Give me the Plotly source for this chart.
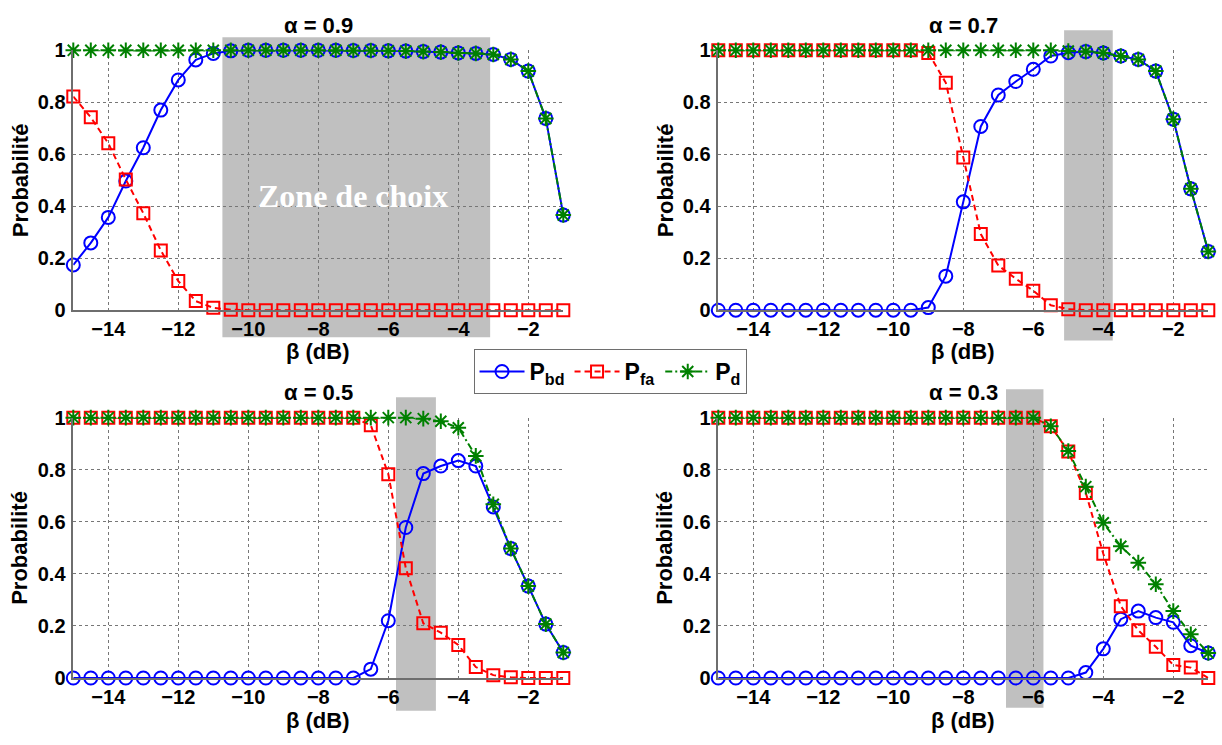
import numpy as np
import plotly.graph_objects as go

# ---------------- data ----------------
beta = [-15 + 0.5 * i for i in range(29)]  # -15 ... -1 dB

alphas = ["0.9", "0.7", "0.5", "0.3"]

pbd_09 = [0.174, 0.259, 0.357, 0.497, 0.625, 0.770, 0.886, 0.963, 0.988, 0.998,
          1.0, 1.0, 1.0, 1.0, 1.0, 1.0, 0.999, 0.999, 0.998, 0.997,
          0.995, 0.993, 0.990, 0.988, 0.984, 0.965, 0.920, 0.738, 0.366]
pfa_09 = [0.822, 0.742, 0.642, 0.503, 0.373, 0.230, 0.112, 0.035, 0.009, 0.002,
          0, 0, 0, 0, 0, 0, 0, 0, 0, 0,
          0, 0, 0, 0, 0, 0, 0, 0, 0]
pd_09 = [1.0, 1.0, 1.0, 1.0, 1.0, 1.0, 1.0, 1.0, 1.0, 1.0,
         1.0, 1.0, 1.0, 1.0, 1.0, 1.0, 0.999, 0.999, 0.998, 0.997,
         0.995, 0.993, 0.990, 0.988, 0.984, 0.965, 0.920, 0.738, 0.366]

pbd_07 = [0, 0, 0, 0, 0, 0, 0, 0, 0, 0,
          0, 0, 0.010, 0.131, 0.417, 0.707, 0.828, 0.880, 0.927, 0.978,
          0.991, 0.995, 0.990, 0.978, 0.965, 0.920, 0.735, 0.467, 0.226]
pfa_07 = [1, 1, 1, 1, 1, 1, 1, 1, 1, 1,
          1, 1, 0.990, 0.875, 0.588, 0.293, 0.172, 0.121, 0.075, 0.019,
          0.004, 0, 0, 0, 0, 0, 0, 0, 0]
pd_07 = [1, 1, 1, 1, 1, 1, 1, 1, 1, 1,
         1, 1, 1, 1, 1, 1, 1, 1, 1, 1,
         0.997, 0.995, 0.990, 0.978, 0.965, 0.920, 0.735, 0.467, 0.226]

pbd_05 = [0, 0, 0, 0, 0, 0, 0, 0, 0, 0,
          0, 0, 0, 0, 0, 0, 0, 0.034, 0.220, 0.578,
          0.785, 0.814, 0.835, 0.814, 0.657, 0.497, 0.353, 0.207, 0.098]
pfa_05 = [1, 1, 1, 1, 1, 1, 1, 1, 1, 1,
          1, 1, 1, 1, 1, 1, 1, 0.971, 0.783, 0.422,
          0.210, 0.174, 0.127, 0.042, 0.011, 0.003, 0, 0, 0]
pd_05 = [1, 1, 1, 1, 1, 1, 1, 1, 1, 1,
         1, 1, 1, 1, 1, 1, 1, 1, 1, 1,
         0.996, 0.986, 0.961, 0.853, 0.667, 0.497, 0.353, 0.207, 0.098]

pbd_03 = [0, 0, 0, 0, 0, 0, 0, 0, 0, 0,
          0, 0, 0, 0, 0, 0, 0, 0, 0, 0,
          0, 0.021, 0.112, 0.226, 0.257, 0.232, 0.214, 0.124, 0.096]
pfa_03 = [1, 1, 1, 1, 1, 1, 1, 1, 1, 1,
          1, 1, 1, 1, 1, 1, 1, 1, 1, 0.967,
          0.870, 0.711, 0.477, 0.276, 0.183, 0.120, 0.050, 0.040, 0.0]
pd_03 = [1, 1, 1, 1, 1, 1, 1, 1, 1, 1,
         1, 1, 1, 1, 1, 1, 1, 1, 1, 0.967,
         0.872, 0.735, 0.596, 0.506, 0.443, 0.360, 0.257, 0.168, 0.096]

# shaded "zone de choix" per panel: x range (dB), y extent (data units)
zone_x0 = [-10.74, -5.12, -5.78, -6.78]
zone_x1 = [-3.09, -3.73, -4.64, -5.71]
zone_y0 = [-0.104, -0.117, -0.126, -0.114]
zone_y1 = [1.05, 1.077, 1.078, 1.109]

x_ticks = [-14, -12, -10, -8, -6, -4, -2]
y_ticks = [0, 0.2, 0.4, 0.6, 0.8, 1]

series = [(pbd_09, pfa_09, pd_09), (pbd_07, pfa_07, pd_07),
          (pbd_05, pfa_05, pd_05), (pbd_03, pfa_03, pd_03)]

# ---------------- layout geometry ----------------
W, H = 1222, 745
x_doms = [(73.3 / W, 563.3 / W), (718.3 / W, 1208.3 / W)]
y_doms = [((H - 308.3) / H, (H - 40.5) / H), ((H - 687.3) / H, (H - 419.0) / H)]
panel_pos = [(0, 0), (1, 0), (0, 1), (1, 1)]  # (col, row)
title_y_px = [14.5, 393.5]
xlabel_y_px = [351, 731]

BLUE, RED, GREEN = "#0000FF", "#FF0000", "#008000"
FONT = "Liberation Sans"

fig = go.Figure()
shapes, annotations = [], []
layout_axes = {}

for i, (col, row) in enumerate(panel_pos):
    xd, yd = x_doms[col], y_doms[row]
    xa = "x" if i == 0 else f"x{i+1}"
    ya = "y" if i == 0 else f"y{i+1}"
    xkey = "xaxis" if i == 0 else f"xaxis{i+1}"
    ykey = "yaxis" if i == 0 else f"yaxis{i+1}"
    pbd, pfa, pd = series[i]
    show = i == 0
    fig.add_trace(go.Scatter(
        x=beta, y=pbd, xaxis=xa, yaxis=ya, mode="lines+markers", name="P<sub>bd</sub>",
        legendgroup="bd", showlegend=show, cliponaxis=False,
        line=dict(color=BLUE, width=2),
        marker=dict(symbol="circle-open", size=13, color=BLUE, line=dict(width=2, color=BLUE))))
    fig.add_trace(go.Scatter(
        x=beta, y=pfa, xaxis=xa, yaxis=ya, mode="lines+markers", name="P<sub>fa</sub>",
        legendgroup="fa", showlegend=show, cliponaxis=False,
        line=dict(color=RED, width=2, dash="6px,4px"),
        marker=dict(symbol="square-open", size=12, color=RED, line=dict(width=2, color=RED))))
    fig.add_trace(go.Scatter(
        x=beta, y=pd, xaxis=xa, yaxis=ya, mode="lines+markers", name="P<sub>d</sub>",
        legendgroup="d", showlegend=show, cliponaxis=False,
        line=dict(color=GREEN, width=2, dash="7px,3px,2px,3px"),
        marker=dict(symbol="asterisk-open", size=13, color=GREEN, line=dict(width=2, color=GREEN))))

    layout_axes[xkey] = dict(
        domain=list(xd), range=[-15, -1], anchor=ya, tickvals=x_ticks,
        showgrid=True, gridcolor="#777", griddash="dot", gridwidth=1,
        showline=True, linecolor="#6e6e6e", linewidth=1.5, zeroline=False,
        ticks="", ticklabelstandoff=0,
        tickfont=dict(family=FONT, size=20, color="black", weight="bold"))
    layout_axes[ykey] = dict(
        domain=list(yd), range=[0, 1], anchor=xa, tickvals=y_ticks,
        showgrid=True, gridcolor="#777", griddash="dot", gridwidth=1,
        showline=True, linecolor="#6e6e6e", linewidth=1.5, zeroline=False,
        ticks="", ticklabelstandoff=2,
        tickfont=dict(family=FONT, size=20, color="black", weight="bold"))

    # shaded zone
    def ypaper(v, yd=yd):
        return yd[0] + v * (yd[1] - yd[0])
    shapes.append(dict(type="rect", xref=xa, yref="paper",
                       x0=zone_x0[i], x1=zone_x1[i],
                       y0=ypaper(zone_y0[i]), y1=ypaper(zone_y1[i]),
                       fillcolor="#c0c0c0", line=dict(width=0), layer="below"))

    # titles and axis labels
    annotations.append(dict(text="α = " + alphas[i], xref=f"{xa} domain", x=0.5,
                            yref="paper", y=(H - title_y_px[row]) / H,
                            xanchor="center", yanchor="middle", showarrow=False,
                            font=dict(family=FONT, size=22, color="black", weight="bold")))
    annotations.append(dict(text="β (dB)", xref=f"{xa} domain", x=0.5,
                            yref="paper", y=(H - xlabel_y_px[row]) / H,
                            xanchor="center", yanchor="middle", showarrow=False,
                            font=dict(family=FONT, size=22, color="black", weight="bold")))
    annotations.append(dict(text="Probabilité", xref="paper",
                            x=(20 + (645 if col == 1 else 0)) / W,
                            yref=f"{ya} domain", y=0.5, textangle=-90,
                            xanchor="center", yanchor="middle", showarrow=False,
                            font=dict(family=FONT, size=22, color="black", weight="bold")))

annotations.append(dict(text="Zone de choix", xref="x", yref="y", x=-7.0, y=0.44,
                        showarrow=False, xanchor="center", yanchor="middle",
                        font=dict(family="Liberation Serif", size=32, color="white", weight="bold")))

fig.update_layout(
    width=W, height=H, margin=dict(l=0, r=0, t=0, b=0),
    paper_bgcolor="white", plot_bgcolor="rgba(0,0,0,0)",
    showlegend=True,
    legend=dict(orientation="h", x=0.4992, y=0.5013, xanchor="center", yanchor="middle",
                bgcolor="white", bordercolor="#6e6e6e", borderwidth=1,
                font=dict(family=FONT, size=23, color="black", weight="bold"),
                itemwidth=45, traceorder="normal"),
    shapes=shapes, annotations=annotations,
    **layout_axes)

fig.write_html("out.html", config={"displayModeBar": False},
               post_script="document.body.style.margin='0';document.body.style.overflow='hidden';")
